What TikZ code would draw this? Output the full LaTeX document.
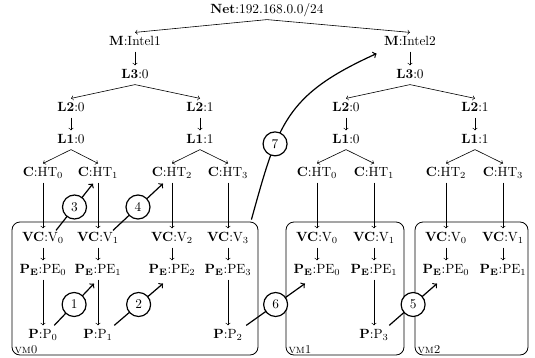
\documentclass[tikz,border=0pt]{standalone}
\usetikzlibrary{calc}
\begin{document}
\begin{tikzpicture}[x=0.75pt,y=-0.75pt,
  lbl/.style={inner sep=2.5pt, text height=7pt, text depth=2pt},
  edge/.style={->, line width=0.45pt},
  mig/.style={->, line width=0.9pt},
  num/.style={circle, draw, line width=0.9pt, fill=white, inner sep=0pt, minimum size=18pt},
  vmbox/.style={draw, rounded corners=6pt, line width=0.6pt, minimum width=184.5pt, minimum height=99.75pt},
  vmlbl/.style={anchor=south west, inner sep=1pt, font=\small},
]
\useasboundingbox (0,0) rectangle (535,357);

% virtual machine boxes
\node[vmbox] (vm0) at (135,288.5) {};
\node[vmbox, minimum width=88.5pt] (vm1) at (345,288.5) {};
\node[vmbox, minimum width=84.75pt] (vm2) at (471.5,288.5) {};
\node[vmlbl] (vm0l) at (13,355) {\textsc{vm0}};
\node[vmlbl] (vm1l) at (287,355) {\textsc{vm1}};
\node[vmlbl] (vm2l) at (416,355) {\textsc{vm2}};

% network and machines
\node[lbl] (net) at (267,10) {\textbf{Net}:192.168.0.0/24};
\node[lbl] (m1) at (135,42) {\textbf{M}:Intel1};
\node[lbl] (m2) at (410,42) {\textbf{M}:Intel2};
\node[lbl] (a3) at (135,75) {\textbf{L3}:0};
\node[lbl] (b3) at (410,75) {\textbf{L3}:0};

% L2 / L1 caches
\node[lbl] (a20) at (71,108) {\textbf{L2}:0};
\node[lbl] (a21) at (200,108) {\textbf{L2}:1};
\node[lbl] (b20) at (346,108) {\textbf{L2}:0};
\node[lbl] (b21) at (475,108) {\textbf{L2}:1};
\node[lbl] (a10) at (71,140) {\textbf{L1}:0};
\node[lbl] (a11) at (200,140) {\textbf{L1}:1};
\node[lbl] (b10) at (346,140) {\textbf{L1}:0};
\node[lbl] (b11) at (475,140) {\textbf{L1}:1};

% hardware threads
\node[lbl] (ac0) at (43,173) {\textbf{C}:HT$_0$};
\node[lbl] (ac1) at (98,173) {\textbf{C}:HT$_1$};
\node[lbl] (ac2) at (172,173) {\textbf{C}:HT$_2$};
\node[lbl] (ac3) at (228,173) {\textbf{C}:HT$_3$};
\node[lbl] (bc0) at (317,173) {\textbf{C}:HT$_0$};
\node[lbl] (bc1) at (374,173) {\textbf{C}:HT$_1$};
\node[lbl] (bc2) at (446,173) {\textbf{C}:HT$_2$};
\node[lbl] (bc3) at (503,173) {\textbf{C}:HT$_3$};

% virtual cores
\node[lbl] (av0) at (43,238) {\textbf{VC}:V$_0$};
\node[lbl] (av1) at (98,238) {\textbf{VC}:V$_1$};
\node[lbl] (av2) at (172,238) {\textbf{VC}:V$_2$};
\node[lbl] (av3) at (228,238) {\textbf{VC}:V$_3$};
\node[lbl] (bv0) at (317,238) {\textbf{VC}:V$_0$};
\node[lbl] (bv1) at (374,238) {\textbf{VC}:V$_1$};
\node[lbl] (cv0) at (446,238) {\textbf{VC}:V$_0$};
\node[lbl] (cv1) at (503,238) {\textbf{VC}:V$_1$};

% processing elements
\node[lbl] (ap0) at (43,270) {\textbf{P}$_{\mathbf{E}}$:PE$_0$};
\node[lbl] (ap1) at (98,270) {\textbf{P}$_{\mathbf{E}}$:PE$_1$};
\node[lbl] (ap2) at (172,270) {\textbf{P}$_{\mathbf{E}}$:PE$_2$};
\node[lbl] (ap3) at (228,270) {\textbf{P}$_{\mathbf{E}}$:PE$_3$};
\node[lbl] (bp0) at (317,270) {\textbf{P}$_{\mathbf{E}}$:PE$_0$};
\node[lbl] (bp1) at (374,270) {\textbf{P}$_{\mathbf{E}}$:PE$_1$};
\node[lbl] (cp0) at (446,270) {\textbf{P}$_{\mathbf{E}}$:PE$_0$};
\node[lbl] (cp1) at (503,270) {\textbf{P}$_{\mathbf{E}}$:PE$_1$};

% processes
\node[lbl] (aq0) at (43,335) {\textbf{P}:P$_0$};
\node[lbl] (aq1) at (98,335) {\textbf{P}:P$_1$};
\node[lbl] (aq2) at (228,335) {\textbf{P}:P$_2$};
\node[lbl] (bq1) at (374,335) {\textbf{P}:P$_3$};

% hierarchy edges
\draw[edge] (net.south) -- (m1.north);
\draw[edge] (net.south) -- (m2.north);
\draw[edge] (m1) -- (a3);
\draw[edge] (m2) -- (b3);
\foreach \s/\t in {a3/a20, a3/a21, b3/b20, b3/b21,
                   a20/a10, a21/a11, b20/b10, b21/b11,
                   a10/ac0, a10/ac1, a11/ac2, a11/ac3,
                   b10/bc0, b10/bc1, b11/bc2, b11/bc3,
                   ac0/av0, ac1/av1, ac2/av2, ac3/av3,
                   bc0/bv0, bc1/bv1, bc2/cv0, bc3/cv1,
                   av0/ap0, av1/ap1, av2/ap2, av3/ap3,
                   bv0/bp0, bv1/bp1, cv0/cp0, cv1/cp1,
                   ap0/aq0, ap1/aq1, ap3/aq2, bp1/bq1}
  \draw[edge] (\s.south) -- (\t.north);

% migrations
\draw[mig] ($(aq0.north east)+(-7,0)$) -- node[num]{1} ($(ap1.south)+(-4,4)$);
\draw[mig] ($(aq1.north east)+(-2,0)$) -- node[num]{2} ($(ap2.south)+(-9,4)$);
\draw[mig] ($(av0.north)+(13,2)$) -- node[num]{3} ($(ac1.south)+(-5,1)$);
\draw[mig] ($(av1.north)+(15,2)$) -- node[num]{4} ($(ac2.south)+(-9,1)$);
\draw[mig] ($(bq1.north east)+(-3,0)$) -- node[num]{5} ($(cp0.south)+(-9,4)$);
\draw[mig] (aq2.north east) -- node[num]{6} ($(bp0.south)+(-12,4)$);
\draw[mig] ($(vm0.north east)+(-7,-2)$) .. controls (278,124) and (285,95) ..
  node[num, pos=0.33]{7} ($(m2.south west)+(-4,2)$);
\end{tikzpicture}
\end{document}
